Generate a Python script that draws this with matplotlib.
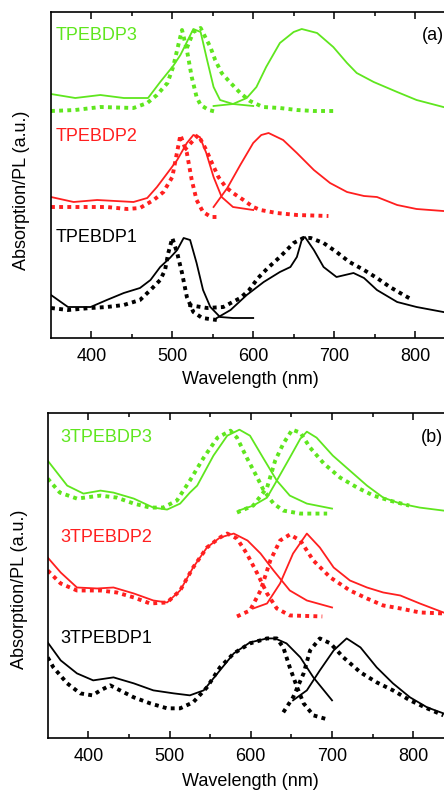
import matplotlib
matplotlib.use("Agg")
import matplotlib.pyplot as plt

plt.rcParams['font.family'] = ['Liberation Sans', 'DejaVu Sans']

GREEN = '#5fe61e'
RED = '#ff1f1f'
BLACK = '#000000'

# ---------------- Panel (a) data (wavelength nm, intensity a.u.) ----------------
a3_abs_wl = [350, 380, 411, 440, 470, 485, 495, 501, 510, 518, 526, 535, 543, 551, 559, 575, 600]
a3_abs_y = [244, 240, 243, 240, 240, 256, 266, 272, 283, 296, 309, 306, 278, 251, 238, 234, 232]
a3_pl_wl = [551, 575, 592, 604, 616, 633, 650, 660, 679, 699, 716, 728, 749, 778, 802, 835]
a3_pl_y = [232, 234, 240, 251, 271, 295, 306, 309, 305, 291, 275, 265, 256, 246, 238, 231]
a3_abs_d_wl = [350, 380, 411, 452, 469, 481, 494, 501, 508, 512, 518, 524, 530, 535, 545, 555]
a3_abs_d_y = [227, 228, 231, 230, 235, 243, 255, 271, 295, 308, 288, 261, 241, 233, 228, 226]
a3_pl_d_wl = [518, 526, 535, 547, 553, 561, 571, 584, 596, 612, 633, 654, 675, 701]
a3_pl_d_y = [290, 306, 310, 291, 278, 265, 256, 245, 237, 231, 230, 228, 227, 227]

a2_abs_wl = [350, 378, 407, 452, 469, 481, 494, 506, 518, 526, 534, 542, 551, 561, 575, 600]
a2_abs_y = [141, 136, 138, 136, 140, 151, 165, 178, 195, 203, 201, 185, 161, 141, 131, 128]
a2_pl_wl = [551, 568, 584, 600, 610, 619, 637, 654, 675, 695, 716, 737, 753, 778, 802, 835]
a2_pl_y = [131, 150, 173, 195, 203, 205, 198, 185, 168, 155, 146, 142, 141, 133, 129, 127]
a2_abs_d_wl = [350, 378, 419, 444, 460, 477, 489, 500, 504, 510, 518, 524, 530, 538, 548, 558]
a2_abs_d_y = [131, 131, 131, 129, 130, 138, 146, 161, 178, 203, 185, 158, 138, 126, 121, 121]
a2_pl_d_wl = [515, 532, 542, 549, 557, 566, 575, 588, 600, 609, 629, 654, 693]
a2_pl_d_y = [188, 203, 188, 175, 161, 151, 145, 138, 131, 128, 125, 123, 122]

a1_abs_wl = [350, 371, 399, 419, 440, 460, 473, 485, 497, 506, 514, 522, 530, 538, 547, 559, 575, 600]
a1_abs_y = [43, 31, 31, 38, 45, 50, 58, 71, 80, 88, 100, 98, 75, 48, 31, 21, 20, 20]
a1_pl_wl = [555, 572, 592, 613, 633, 646, 654, 660, 664, 675, 687, 703, 724, 737, 753, 778, 802, 835]
a1_pl_y = [20, 28, 43, 56, 66, 71, 81, 98, 101, 88, 71, 61, 65, 60, 48, 36, 31, 26]
a1_abs_d_wl = [350, 371, 399, 419, 440, 460, 473, 485, 491, 495, 500, 506, 512, 518, 526, 537, 555]
a1_abs_d_y = [30, 28, 30, 31, 33, 38, 48, 58, 68, 85, 100, 85, 65, 41, 26, 20, 18]
a1_pl_d_wl = [520, 543, 563, 584, 595, 606, 618, 633, 650, 662, 671, 687, 703, 719, 737, 753, 769, 786, 797]
a1_pl_d_y = [33, 30, 31, 40, 48, 60, 70, 81, 95, 100, 100, 95, 86, 76, 68, 60, 51, 43, 38]

# ---------------- Panel (b) data ----------------
b3_abs_wl = [350, 374, 394, 415, 431, 456, 480, 497, 513, 525, 534, 554, 571, 586, 599, 615, 632, 648, 669, 700]
b3_abs_y = [278, 253, 245, 248, 246, 240, 231, 229, 235, 246, 253, 283, 303, 309, 303, 281, 258, 243, 235, 230]
b3_pl_wl = [585, 603, 620, 632, 648, 661, 669, 681, 701, 722, 743, 763, 784, 808, 837]
b3_pl_y = [228, 233, 241, 258, 281, 300, 307, 301, 283, 268, 253, 241, 235, 231, 228]
b3_abs_d_wl = [350, 365, 386, 415, 435, 456, 476, 492, 509, 525, 542, 559, 575, 583, 595, 608, 616, 628, 640, 661, 694]
b3_abs_d_y = [260, 246, 240, 243, 241, 235, 231, 231, 238, 258, 281, 301, 308, 301, 281, 261, 248, 235, 228, 225, 225]
b3_pl_d_wl = [583, 603, 620, 630, 640, 651, 661, 673, 690, 710, 731, 751, 771, 795]
b3_pl_d_y = [226, 233, 251, 278, 295, 309, 306, 291, 275, 261, 251, 243, 238, 233]

b2_abs_wl = [350, 366, 386, 411, 431, 456, 480, 497, 513, 529, 546, 562, 579, 596, 612, 628, 648, 669, 700]
b2_abs_y = [181, 166, 151, 150, 151, 145, 138, 136, 148, 171, 191, 201, 205, 198, 185, 168, 148, 138, 131]
b2_pl_wl = [603, 620, 636, 652, 669, 685, 702, 722, 743, 763, 784, 808, 837]
b2_pl_y = [130, 135, 155, 185, 205, 191, 171, 158, 151, 146, 143, 135, 126]
b2_abs_d_wl = [350, 366, 386, 415, 435, 456, 476, 497, 513, 529, 546, 562, 571, 583, 595, 608, 620, 632, 648, 688]
b2_abs_d_y = [168, 155, 148, 148, 146, 141, 135, 136, 148, 171, 191, 201, 205, 200, 185, 165, 145, 130, 123, 122]
b2_pl_d_wl = [583, 599, 612, 624, 636, 648, 661, 677, 698, 722, 743, 763, 784, 808, 837]
b2_pl_d_y = [122, 128, 148, 178, 198, 204, 198, 178, 161, 148, 140, 133, 130, 126, 125]

b1_abs_wl = [350, 366, 386, 406, 431, 456, 480, 505, 525, 542, 562, 579, 599, 620, 630, 644, 661, 677, 700]
b1_abs_y = [96, 78, 65, 58, 61, 55, 48, 45, 43, 48, 68, 85, 96, 100, 100, 95, 81, 61, 38]
b1_pl_wl = [652, 669, 685, 702, 718, 735, 755, 775, 796, 817, 837]
b1_pl_y = [38, 48, 68, 88, 100, 91, 71, 55, 41, 31, 25]
b1_abs_d_wl = [350, 357, 374, 390, 405, 415, 427, 439, 456, 476, 497, 513, 529, 546, 562, 579, 599, 620, 632, 640, 648, 657, 665, 677, 694]
b1_abs_d_y = [81, 71, 55, 45, 43, 48, 53, 48, 41, 35, 30, 30, 36, 51, 71, 85, 95, 100, 100, 91, 71, 51, 35, 23, 19]
b1_pl_d_wl = [640, 652, 665, 673, 685, 698, 714, 735, 755, 775, 796, 817, 837]
b1_pl_d_y = [26, 41, 65, 88, 100, 95, 81, 66, 56, 48, 38, 30, 23]

x_ticks = [400, 500, 600, 700, 800]
labels_a = ['TPEBDP3', 'TPEBDP2', 'TPEBDP1']
labels_b = ['3TPEBDP3', '3TPEBDP2', '3TPEBDP1']

W, H = 444, 792
fig = plt.figure(figsize=(W / 100, H / 100), dpi=100)

def px_axes(left, top, right, bottom):
    return fig.add_axes([left / W, 1 - bottom / H, (right - left) / W, (bottom - top) / H])

ax_a = px_axes(51, 12, 455.4, 338)
ax_b = px_axes(47.7, 412.7, 453.9, 738.3)

solid_kw = dict(lw=1.3, solid_joinstyle='round')
dot_kw = dict(lw=2.8, linestyle=(0, (1, 1.1)), dash_capstyle='butt')

def draw(ax, groups):
    for color, abs_wl, abs_y, pl_wl, pl_y, absd_wl, absd_y, pld_wl, pld_y in groups:
        ax.plot(abs_wl, abs_y, color=color, **solid_kw)
        ax.plot(pl_wl, pl_y, color=color, **solid_kw)
        ax.plot(absd_wl, absd_y, color=color, **dot_kw)
        ax.plot(pld_wl, pld_y, color=color, **dot_kw)

draw(ax_a, [
    (GREEN, a3_abs_wl, a3_abs_y, a3_pl_wl, a3_pl_y, a3_abs_d_wl, a3_abs_d_y, a3_pl_d_wl, a3_pl_d_y),
    (RED, a2_abs_wl, a2_abs_y, a2_pl_wl, a2_pl_y, a2_abs_d_wl, a2_abs_d_y, a2_pl_d_wl, a2_pl_d_y),
    (BLACK, a1_abs_wl, a1_abs_y, a1_pl_wl, a1_pl_y, a1_abs_d_wl, a1_abs_d_y, a1_pl_d_wl, a1_pl_d_y),
])
draw(ax_b, [
    (GREEN, b3_abs_wl, b3_abs_y, b3_pl_wl, b3_pl_y, b3_abs_d_wl, b3_abs_d_y, b3_pl_d_wl, b3_pl_d_y),
    (RED, b2_abs_wl, b2_abs_y, b2_pl_wl, b2_pl_y, b2_abs_d_wl, b2_abs_d_y, b2_pl_d_wl, b2_pl_d_y),
    (BLACK, b1_abs_wl, b1_abs_y, b1_pl_wl, b1_pl_y, b1_abs_d_wl, b1_abs_d_y, b1_pl_d_wl, b1_pl_d_y),
])

for ax in (ax_a, ax_b):
    ax.set_xlim(350, 850)
    ax.set_ylim(0, 326)
    ax.set_xticks(x_ticks)
    ax.set_xticks([450, 550, 650, 750, 850], minor=True)
    ax.set_yticks([])
    ax.tick_params(axis='x', which='both', direction='in', top=True, bottom=True,
                   width=1.1, labelsize=13, pad=7)
    ax.tick_params(axis='x', which='major', length=5)
    ax.tick_params(axis='x', which='minor', length=3)
    for s in ax.spines.values():
        s.set_linewidth(1.2)

colors = [GREEN, RED, BLACK]
for lab, yy, c in zip(labels_a, [0.929, 0.617, 0.307], colors):
    ax_a.text(0.012, yy, lab, transform=ax_a.transAxes, color=c, fontsize=13, va='center', ha='left')
ax_a.text(0.917, 0.929, '(a)', transform=ax_a.transAxes, fontsize=13, va='center', ha='left')
for lab, yy, c in zip(labels_b, [0.925, 0.618, 0.308], colors):
    ax_b.text(0.030, yy, lab, transform=ax_b.transAxes, color=c, fontsize=13, va='center', ha='left')
ax_b.text(0.919, 0.925, '(b)', transform=ax_b.transAxes, fontsize=13, va='center', ha='left')

fig.text(250 / W, 1 - 380 / H, 'Wavelength (nm)', fontsize=13, ha='center', va='center')
fig.text(250 / W, 1 - 782 / H, 'Wavelength (nm)', fontsize=13, ha='center', va='center')
fig.text(22 / W, 1 - 190 / H, 'Absorption/PL (a.u.)', fontsize=13, rotation=90, ha='center', va='center')
fig.text(19 / W, 1 - 589 / H, 'Absorption/PL (a.u.)', fontsize=13, rotation=90, ha='center', va='center')

fig.savefig('out.png', dpi=100)
